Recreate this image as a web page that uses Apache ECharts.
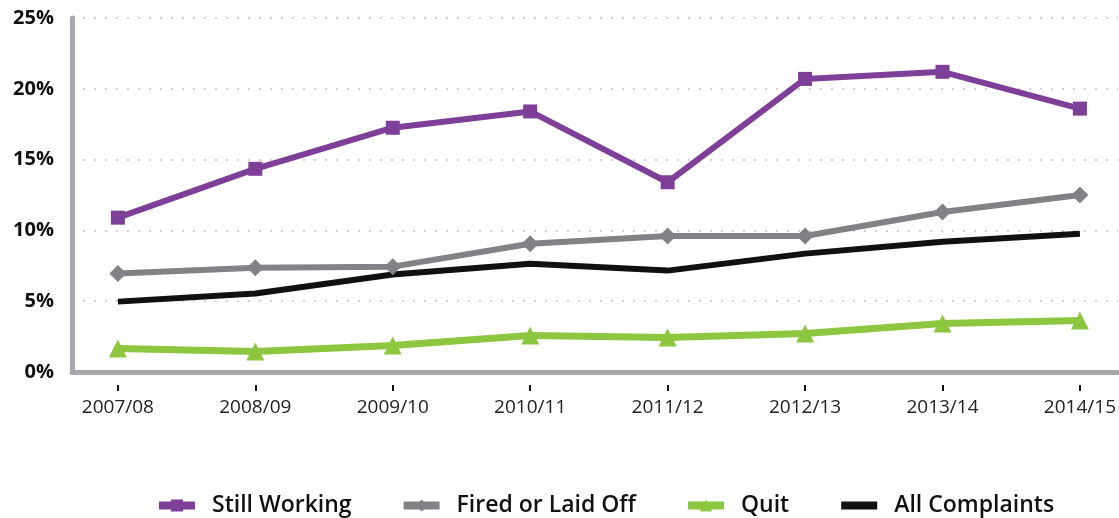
<!DOCTYPE html>
<html>
<head>
<meta charset="utf-8">
<script src="https://cdn.jsdelivr.net/npm/echarts@6/dist/echarts.min.js"></script>
<style>
	html, body{margin:0; padding:0; background:#fff;}
	#chart{width:1119px; height:518px;}
</style>
</head>
<body>
<div id="chart"></div>
<script>
	var years = ['2007/08', '2008/09', '2009/10', '2010/11', '2011/12', '2012/13', '2013/14', '2014/15'];
	var stillWorking = [10.9, 14.35, 17.25, 18.4, 13.4, 20.7, 21.2, 18.6];
	var firedLaidOff = [6.95, 7.37, 7.44, 9.06, 9.6, 9.6, 11.3, 12.5];
	var quit = [1.66, 1.45, 1.87, 2.57, 2.43, 2.72, 3.42, 3.64];
	var allComplaints = [4.97, 5.54, 6.88, 7.65, 7.16, 8.36, 9.2, 9.77];
	var yTicks = [0, 5, 10, 15, 20, 25];

	var idx = years.map(function (y, i) { return i; });
	function pairs(arr) {
		return arr.map(function (v, i) { return [i, v]; });
	}

	var font = '"Open Sans", Lato, sans-serif';
	var myChart = echarts.init(document.getElementById('chart'));
	var xMin = -0.334, xMax = 7.276;

	option = {
		animation: false,
		grid: {
			left: 72,
			right: 0,
			top: 18,
			bottom: 146
		},
		legend: {
			top: 489,
			left: 150,
			itemWidth: 36,
			itemHeight: 15,
			itemGap: 48,
			lineStyle: {width: 8},
			textStyle: {fontFamily: font, fontSize: 23, fontWeight: 600, color: '#111', padding: [0, 0, 0, 12]},
			data: [
				'Still Working',
				'Fired or Laid Off',
				'Quit',
				{name: 'All Complaints', itemStyle: {opacity: 0}}
			]
		},
		xAxis: [
			{
				type: 'value',
				min: xMin,
				max: xMax,
				axisLine: {show: true, onZero: false, lineStyle: {color: '#a7a9ac', width: 5}},
				axisTick: {show: false},
				axisLabel: {show: false},
				splitLine: {show: false}
			},
			{
				type: 'value',
				min: xMin,
				max: xMax,
				position: 'bottom',
				offset: 13,
				axisLine: {show: false, onZero: false},
				axisTick: {show: true, length: 6, lineStyle: {color: '#111', width: 2}, customValues: idx},
				axisLabel: {
					show: true,
					margin: 13,
					customValues: idx,
					fontFamily: font,
					fontSize: 19,
					color: '#222',
					formatter: function (v) { return years[Math.round(v)]; }
				},
				splitLine: {show: false}
			}
		],
		yAxis: {
			type: 'value',
			min: yTicks[0],
			max: yTicks[yTicks.length - 1],
			interval: 5,
			axisLine: {show: true, onZero: false, lineStyle: {color: '#a7a9ac', width: 5}},
			axisTick: {show: false},
			axisLabel: {
				margin: 18,
				fontFamily: font,
				fontSize: 20,
				fontWeight: 'bold',
				color: '#111',
				formatter: '{value}%'
			},
			splitLine: {
				show: true,
				lineStyle: {color: '#d0d0d0', width: 2, type: [2, 9]}
			}
		},
		series: [
			{
				name: 'Still Working',
				type: 'line',
				data: pairs(stillWorking),
				symbol: 'rect',
				symbolSize: 14,
				color: '#7d3f98',
				lineStyle: {width: 6}
			},
			{
				name: 'Fired or Laid Off',
				type: 'line',
				data: pairs(firedLaidOff),
				symbol: 'diamond',
				symbolSize: 17,
				color: '#808285',
				lineStyle: {width: 6}
			},
			{
				name: 'Quit',
				type: 'line',
				data: pairs(quit),
				symbol: 'triangle',
				symbolSize: 18,
				color: '#8dc63f',
				lineStyle: {width: 7}
			},
			{
				name: 'All Complaints',
				type: 'line',
				data: pairs(allComplaints),
				symbol: 'none',
				color: '#111111',
				lineStyle: {width: 6}
			}
		]
	};
	myChart.setOption(option);
</script>
</body>
</html>
